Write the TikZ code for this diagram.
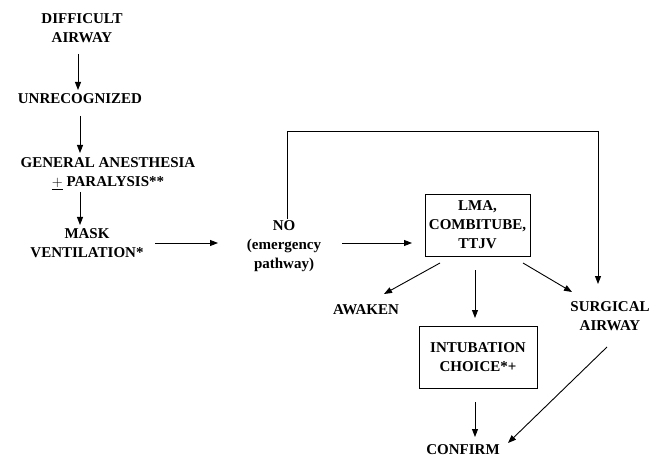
\documentclass[tikz,border=0pt]{standalone}
\usepackage{fontspec}
\setmainfont{Liberation Serif}
\usetikzlibrary{arrows.meta}
\begin{document}
\begin{tikzpicture}[x=1pt,y=-1pt,
  lbl/.style={align=center,font=\fontsize{15}{19}\selectfont\bfseries,inner sep=1pt},
  boxed/.style={lbl,draw,line width=0.9pt,inner sep=3pt},
  arr/.style={-{Triangle[length=8pt,width=6pt]},line width=0.9pt},
  ln/.style={line width=0.9pt}]
\useasboundingbox (0,0) rectangle (653,457);
% left column
\node[lbl] (diff) at (82,28.5) {DIFFICULT\\AIRWAY};
\node[lbl] (unrec) at (80,99) {UNRECOGNIZED};
\node[lbl] (gen) at (108,173.5) {GENERAL ANESTHESIA\\$\underline{+}$ PARALYSIS**};
\node[lbl] (mask) at (87,243.5) {MASK\\VENTILATION*};
% emergency pathway
\node[lbl] (no) at (284,246) {NO\\(emergency\\pathway)};
\node[boxed,minimum width=105pt,minimum height=62pt] (lma) at (477.5,225) {LMA,\\COMBITUBE,\\TTJV};
\node[lbl] (awaken) at (366,310) {AWAKEN};
\node[boxed,minimum width=118pt,minimum height=62pt] (intub) at (478,357) {INTUBATION\\CHOICE*+};
\node[lbl] (surg) at (610,316.5) {SURGICAL\\AIRWAY};
\node[lbl] (conf) at (463,450) {CONFIRM};
\coordinate (bend1) at (287,131);
\coordinate (bend2) at (598,131);

% main sequence
\draw[arr] (78,54) -- (78,90);
\draw[arr] (80,116) -- (80,153);
\draw[arr] (80,192) -- (80,225);
\draw[arr] (155,243) -- (218,243);
\draw[arr] (342,243) -- (412,243);
% bypass to surgical airway
\draw[ln] (bend1 |- no.north) -- (bend1) -- (bend2);
\draw[arr] (bend2) -- (598,284);
% branches from the rescue devices
\draw[arr] (440,263) -- (384,294);
\draw[arr] (475,270) -- (475,318);
\draw[arr] (523,263) -- (572,292);
\draw[arr] (475,402) -- (475,437);
\draw[arr] (607,347) -- (508,443);
\end{tikzpicture}
\end{document}
